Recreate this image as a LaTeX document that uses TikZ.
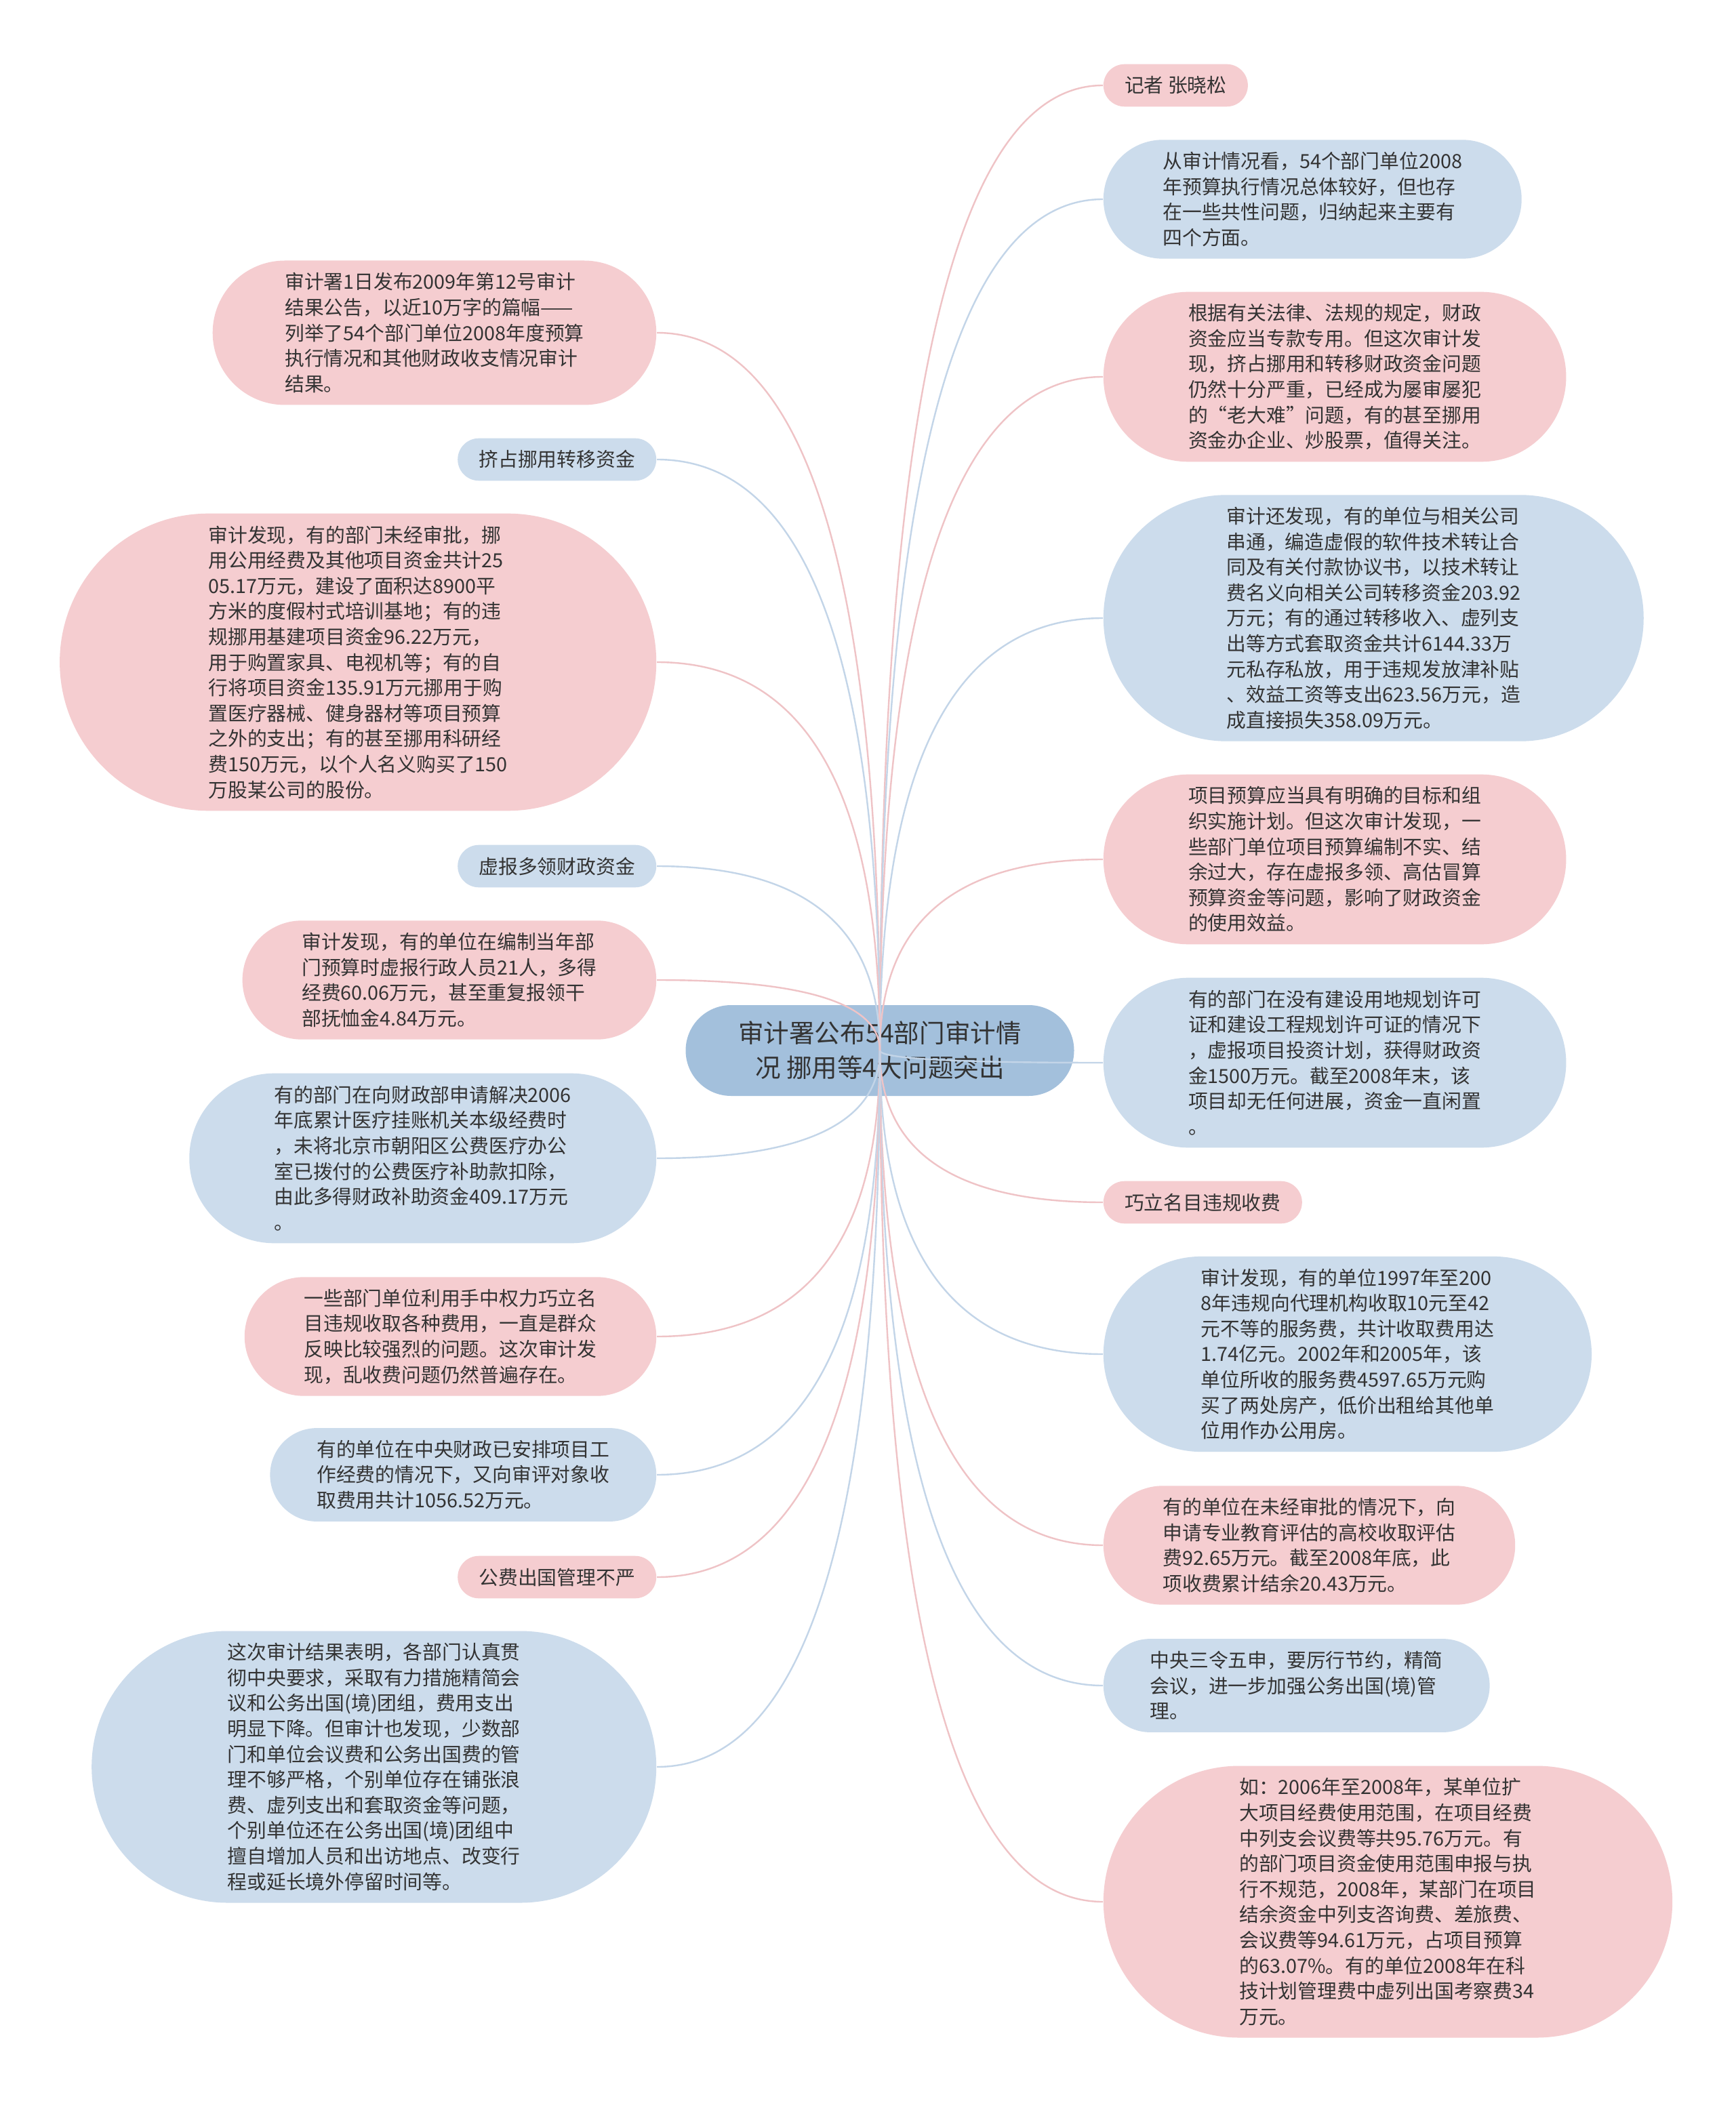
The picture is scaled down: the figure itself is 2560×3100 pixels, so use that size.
\documentclass[tikz,border=0pt]{standalone}
\usepackage{fontspec}
\setmainfont{Noto Sans CJK SC}
\usetikzlibrary{calc}
\definecolor{pinkfill}{HTML}{F5CDD0}
\definecolor{bluefill}{HTML}{CCDCEC}
\definecolor{rootfill}{HTML}{A3C0DC}
\definecolor{pinkline}{HTML}{EFC3C6}
\definecolor{blueline}{HTML}{C3D5E8}
\definecolor{textgray}{HTML}{333333}

\begin{document}
\begin{tikzpicture}[x=0.25pt, y=-0.25pt,
  box/.style={font=\fontsize{7.2pt}{9.4pt}\selectfont, text=textgray, align=left,
    minimum height={#1*9.4pt+6.25pt}, inner ysep=0pt,
    inner xsep={(#1*9.4pt+6.25pt)/2}, rounded corners={(#1*9.4pt+6.25pt)/2}},
  pinkbox/.style={box=#1, fill=pinkfill},
  bluebox/.style={box=#1, fill=bluefill},
  rootbox/.style={font=\fontsize{9.4pt}{12.75pt}\selectfont, text=textgray, align=center,
    fill=rootfill, minimum width=143.25pt, minimum height=33.5pt, rounded corners=16.75pt},
  link/.style={line width=0.6pt}]
  % Page
  \fill[white] (0,0) rectangle (2560,3100);
  \useasboundingbox (0,0) rectangle (2560,3100);
  % Root
  \node[rootbox] (root) at (1298,1550) {审计署公布54部门审计情\\况 挪用等4大问题突出};
  % Right branch
  \node[pinkbox=1, anchor=west] (r1) at (1627,126) {记者 张晓松};
  \node[bluebox=4, anchor=west] (r2) at (1627,294) {从审计情况看，54个部门单位2008\\年预算执行情况总体较好，但也存\\在一些共性问题，归纳起来主要有\\四个方面。};
  \node[pinkbox=6, anchor=west] (r3) at (1627,556) {根据有关法律、法规的规定，财政\\资金应当专款专用。但这次审计发\\现，挤占挪用和转移财政资金问题\\仍然十分严重，已经成为屡审屡犯\\的“老大难”问题，有的甚至挪用\\资金办企业、炒股票，值得关注。};
  \node[bluebox=9, anchor=west] (r4) at (1627,912) {审计还发现，有的单位与相关公司\\串通，编造虚假的软件技术转让合\\同及有关付款协议书，以技术转让\\费名义向相关公司转移资金203.92\\万元；有的通过转移收入、虚列支\\出等方式套取资金共计6144.33万\\元私存私放，用于违规发放津补贴\\、效益工资等支出623.56万元，造\\成直接损失358.09万元。};
  \node[pinkbox=6, anchor=west] (r5) at (1627,1268) {项目预算应当具有明确的目标和组\\织实施计划。但这次审计发现，一\\些部门单位项目预算编制不实、结\\余过大，存在虚报多领、高估冒算\\预算资金等问题，影响了财政资金\\的使用效益。};
  \node[bluebox=6, anchor=west] (r6) at (1627,1568) {有的部门在没有建设用地规划许可\\证和建设工程规划许可证的情况下\\，虚报项目投资计划，获得财政资\\金1500万元。截至2008年末，该\\项目却无任何进展，资金一直闲置\\。};
  \node[pinkbox=1, anchor=west] (r7) at (1627,1774) {巧立名目违规收费};
  \node[bluebox=7, anchor=west] (r8) at (1627,1998) {审计发现，有的单位1997年至200\\8年违规向代理机构收取10元至42\\元不等的服务费，共计收取费用达\\1.74亿元。2002年和2005年，该\\单位所收的服务费4597.65万元购\\买了两处房产，低价出租给其他单\\位用作办公用房。};
  \node[pinkbox=4, anchor=west] (r9) at (1627,2280) {有的单位在未经审批的情况下，向\\申请专业教育评估的高校收取评估\\费92.65万元。截至2008年底，此\\项收费累计结余20.43万元。};
  \node[bluebox=3, anchor=west] (r10) at (1627,2487) {中央三令五申，要厉行节约，精简\\会议，进一步加强公务出国(境)管\\理。};
  \node[pinkbox=10, anchor=west] (r11) at (1627,2806) {如：2006年至2008年，某单位扩\\大项目经费使用范围，在项目经费\\中列支会议费等共95.76万元。有\\的部门项目资金使用范围申报与执\\行不规范，2008年，某部门在项目\\结余资金中列支咨询费、差旅费、\\会议费等94.61万元，占项目预算\\的63.07\%。有的单位2008年在科\\技计划管理费中虚列出国考察费34\\万元。};
  % Left branch
  \node[pinkbox=5, anchor=east] (l1) at (969,491) {审计署1日发布2009年第12号审计\\结果公告，以近10万字的篇幅——\\列举了54个部门单位2008年度预算\\执行情况和其他财政收支情况审计\\结果。};
  \node[bluebox=1, anchor=east] (l2) at (969,678) {挤占挪用转移资金};
  \node[pinkbox=11, anchor=east] (l3) at (969,977) {审计发现，有的部门未经审批，挪\\用公用经费及其他项目资金共计25\\05.17万元，建设了面积达8900平\\方米的度假村式培训基地；有的违\\规挪用基建项目资金96.22万元，\\用于购置家具、电视机等；有的自\\行将项目资金135.91万元挪用于购\\置医疗器械、健身器材等项目预算\\之外的支出；有的甚至挪用科研经\\费150万元，以个人名义购买了150\\万股某公司的股份。};
  \node[bluebox=1, anchor=east] (l4) at (969,1278) {虚报多领财政资金};
  \node[pinkbox=4, anchor=east] (l5) at (969,1446) {审计发现，有的单位在编制当年部\\门预算时虚报行政人员21人，多得\\经费60.06万元，甚至重复报领干\\部抚恤金4.84万元。};
  \node[bluebox=6, anchor=east] (l6) at (969,1709) {有的部门在向财政部申请解决2006\\年底累计医疗挂账机关本级经费时\\，未将北京市朝阳区公费医疗办公\\室已拨付的公费医疗补助款扣除，\\由此多得财政补助资金409.17万元\\。};
  \node[pinkbox=4, anchor=east] (l7) at (969,1972) {一些部门单位利用手中权力巧立名\\目违规收取各种费用，一直是群众\\反映比较强烈的问题。这次审计发\\现，乱收费问题仍然普遍存在。};
  \node[bluebox=3, anchor=east] (l8) at (969,2176) {有的单位在中央财政已安排项目工\\作经费的情况下，又向审评对象收\\取费用共计1056.52万元。};
  \node[pinkbox=1, anchor=east] (l9) at (969,2327) {公费出国管理不严};
  \node[bluebox=10, anchor=east] (l10) at (969,2607) {这次审计结果表明，各部门认真贯\\彻中央要求，采取有力措施精简会\\议和公务出国(境)团组，费用支出\\明显下降。但审计也发现，少数部\\门和单位会议费和公务出国费的管\\理不够严格，个别单位存在铺张浪\\费、虚列支出和套取资金等问题，\\个别单位还在公务出国(境)团组中\\擅自增加人员和出访地点、改变行\\程或延长境外停留时间等。};
  % Connectors
  \foreach \n/\c in {r1/pinkline, r2/blueline, r3/pinkline, r4/blueline, r5/pinkline, r6/blueline,
                     r7/pinkline, r8/blueline, r9/pinkline, r10/blueline, r11/pinkline}
    \draw[link, \c] (root.center) .. controls ($(root.center)!0.667!(root.center |- \n.west)$)
      and ($(\n.west)!0.667!(root.center |- \n.west)$) .. (\n.west);
  \foreach \n/\c in {l1/pinkline, l2/blueline, l3/pinkline, l4/blueline, l5/pinkline,
                     l6/blueline, l7/pinkline, l8/blueline, l9/pinkline, l10/blueline}
    \draw[link, \c] (root.center) .. controls ($(root.center)!0.667!(root.center |- \n.east)$)
      and ($(\n.east)!0.667!(root.center |- \n.east)$) .. (\n.east);
\end{tikzpicture}
\end{document}
